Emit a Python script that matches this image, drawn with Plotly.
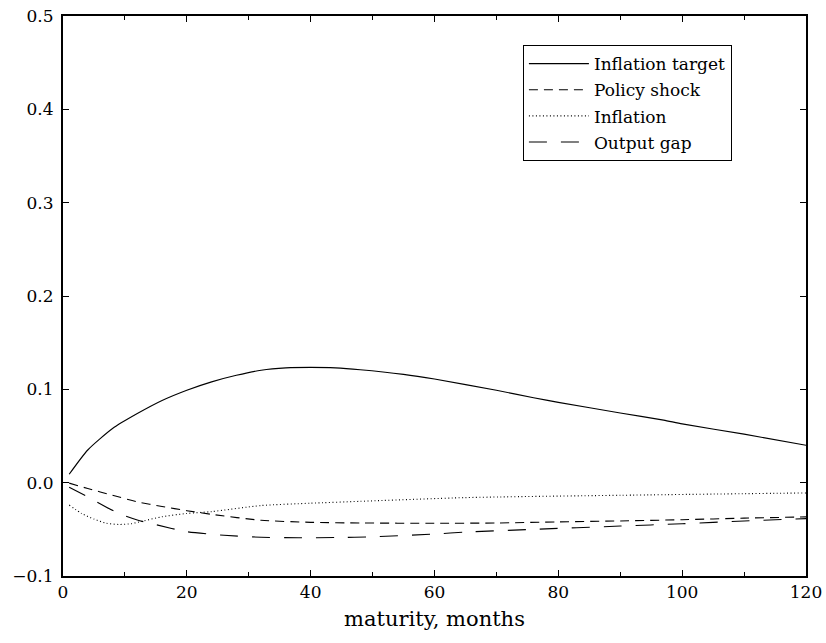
import plotly.graph_objects as go

# months and values
target_x = [1, 4, 8, 12, 16, 20, 24, 28, 32, 36, 40, 44, 48, 55, 60, 70, 76, 80, 90, 97, 100, 110, 120]
target_y = [0.009, 0.035, 0.058, 0.074, 0.088, 0.099, 0.108, 0.115, 0.1205, 0.123, 0.1235, 0.123, 0.121,
            0.116, 0.111, 0.099, 0.091, 0.086, 0.0747, 0.067, 0.063, 0.052, 0.040]

policy_x = [1, 4, 8, 12, 16, 20, 24, 32, 40, 48, 60, 70, 80, 90, 100, 110, 120]
policy_y = [-0.0005, -0.0063, -0.0135, -0.0205, -0.0255, -0.030, -0.034, -0.0403, -0.0425, -0.0432,
            -0.0435, -0.0432, -0.042, -0.041, -0.0397, -0.038, -0.0367]

infl_x = [1, 3, 5, 7, 9, 11, 13, 16, 20, 24, 32, 40, 48, 65, 90, 120]
infl_y = [-0.024, -0.033, -0.039, -0.0435, -0.0448, -0.044, -0.041, -0.0365, -0.033, -0.031, -0.0245,
          -0.022, -0.020, -0.016, -0.0135, -0.011]

gap_x = [1, 4, 9, 12, 15, 20, 26, 32, 38, 44, 50, 60, 65, 76, 90, 100, 110, 120]
gap_y = [-0.005, -0.0153, -0.033, -0.040, -0.045, -0.0525, -0.0564, -0.0585, -0.059, -0.0588, -0.058,
         -0.055, -0.053, -0.050, -0.0465, -0.044, -0.041, -0.0385]

names = ["Inflation target", "Policy shock", "Inflation", "Output gap"]

FONT = "DejaVu Serif"

fig = go.Figure()
series = [
    (target_x, target_y, None),
    (policy_x, policy_y, "9px,6px"),
    (infl_x, infl_y, "1px,2.5px"),
    (gap_x, gap_y, "18px,14px"),
]
for i, (xs, ys, dash) in enumerate(series):
    line = dict(color="black", width=1.1, shape="spline", smoothing=0.6)
    if dash:
        line["dash"] = dash
    fig.add_trace(go.Scatter(x=xs, y=ys, name=names[i], mode="lines", line=line,
                             legendgroup=f"g{i}"))

fig.update_layout(
    width=826, height=643,
    margin=dict(l=63, r=20, t=16, b=67, autoexpand=False),
    paper_bgcolor="white", plot_bgcolor="white",
    font=dict(family=FONT, size=17, color="black"),
    showlegend=True,
    legend=dict(x=0.619, y=0.948, xanchor="left", yanchor="top",
                bordercolor="black", borderwidth=1, bgcolor="white",
                font=dict(family=FONT, size=17, color="black"),
                tracegroupgap=1, itemwidth=60),
)
fig.update_xaxes(
    range=[0, 120], tickmode="linear", tick0=0, dtick=20,
    ticks="inside", ticklen=6, tickwidth=1, tickcolor="black",
    minor=dict(dtick=10, ticks="inside", ticklen=4, tickcolor="black"),
    showline=True, linewidth=2, linecolor="black", mirror="allticks",
    showgrid=False, zeroline=False, automargin=False,
    title=dict(text="maturity, months", font=dict(family=FONT, size=21), standoff=10),
)
fig.update_yaxes(
    range=[-0.1, 0.5], tickmode="linear", tick0=-0.1, dtick=0.1, tickformat=".1f",
    ticks="inside", ticklen=6, tickwidth=1, tickcolor="black",
    showline=True, linewidth=2, linecolor="black", mirror="allticks",
    showgrid=False, zeroline=False, ticklabelstandoff=4, automargin=False,
)

fig.write_html("out.html")
